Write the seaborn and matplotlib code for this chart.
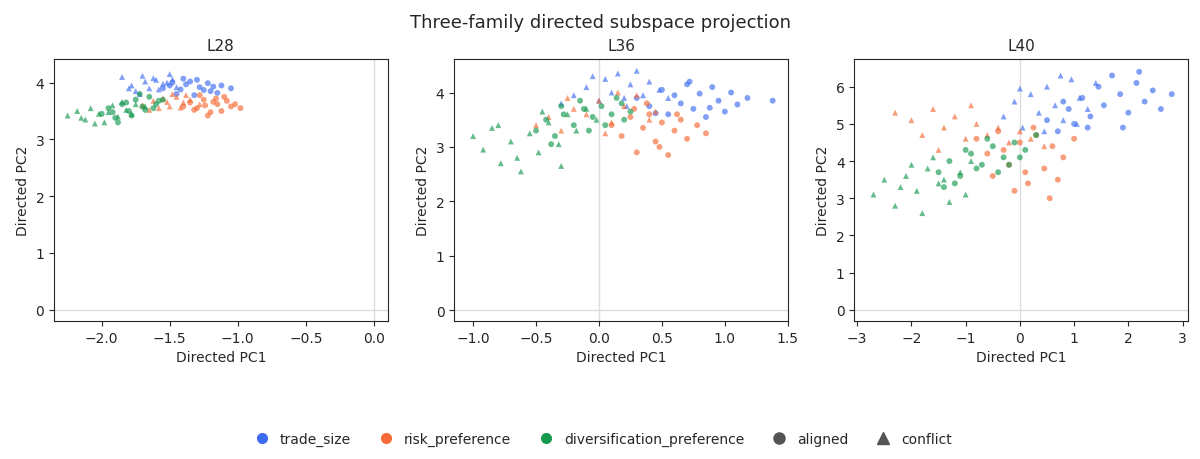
import matplotlib
matplotlib.use("Agg")
import matplotlib.pyplot as plt
import seaborn as sns
import pandas as pd
from matplotlib.lines import Line2D

families = ["trade_size", "risk_preference", "diversification_preference"]
palette = {"trade_size": "#3d6cf0", "risk_preference": "#f56a35", "diversification_preference": "#14994f"}
layers = ["L28", "L36", "L40"]

# ---- L28 ----
L28_trade_al_x = [-1.50, -1.42, -1.35, -1.28, -1.20, -1.12, -1.05, -1.45, -1.38, -1.30, -1.22, -1.15, -1.55, -1.25, -1.32, -1.40, -1.18, -1.48]
L28_trade_al_y = [3.95, 3.88, 4.02, 3.92, 3.85, 3.95, 3.90, 3.80, 3.97, 4.05, 3.99, 3.82, 3.90, 3.87, 3.78, 4.07, 3.93, 4.00]
L28_trade_co_x = [-1.85, -1.78, -1.70, -1.65, -1.60, -1.55, -1.50, -1.45, -1.75, -1.68, -1.58, -1.62, -1.52, -1.72, -1.48, -1.80]
L28_trade_co_y = [4.10, 3.95, 4.12, 3.90, 4.05, 3.98, 4.15, 3.92, 3.85, 4.02, 3.88, 4.08, 4.00, 3.80, 4.06, 3.90]
L28_risk_al_x = [-1.35, -1.30, -1.25, -1.20, -1.15, -1.10, -1.05, -0.98, -1.28, -1.22, -1.18, -1.12, -1.32, -1.08, -1.24, -1.16, -1.02, -1.40]
L28_risk_al_y = [3.65, 3.55, 3.70, 3.48, 3.62, 3.75, 3.58, 3.55, 3.78, 3.42, 3.66, 3.50, 3.52, 3.68, 3.60, 3.72, 3.62, 3.58]
L28_risk_co_x = [-1.70, -1.62, -1.55, -1.50, -1.45, -1.40, -1.35, -1.28, -1.58, -1.48, -1.65, -1.38, -1.52, -1.42]
L28_risk_co_y = [3.60, 3.68, 3.72, 3.58, 3.75, 3.65, 3.70, 3.62, 3.55, 3.80, 3.52, 3.78, 3.66, 3.56]
L28_div_al_x = [-2.00, -1.95, -1.90, -1.85, -1.80, -1.75, -1.70, -1.65, -1.60, -1.55, -1.88, -1.78, -1.68, -1.82, -1.72, -1.92, -1.62, -1.58]
L28_div_al_y = [3.45, 3.55, 3.38, 3.62, 3.50, 3.70, 3.58, 3.75, 3.62, 3.70, 3.30, 3.42, 3.52, 3.65, 3.80, 3.48, 3.55, 3.68]
L28_div_co_x = [-2.25, -2.18, -2.12, -2.08, -2.02, -1.98, -1.92, -1.88, -1.82, -1.75, -1.68, -2.15, -2.05, -1.95, -1.85, -1.78]
L28_div_co_y = [3.42, 3.50, 3.35, 3.55, 3.45, 3.30, 3.60, 3.40, 3.52, 3.62, 3.58, 3.38, 3.28, 3.48, 3.66, 3.45]

# ---- L36 ----
L36_trade_al_x = [0.30, 0.40, 0.50, 0.55, 0.60, 0.65, 0.70, 0.75, 0.80, 0.85, 0.90, 0.95, 1.00, 1.05, 1.10, 1.18, 0.45, 0.72, 0.88, 1.38]
L36_trade_al_y = [3.90, 3.75, 4.05, 3.60, 3.95, 3.80, 4.15, 3.70, 3.98, 3.55, 4.10, 3.85, 3.65, 4.00, 3.78, 3.90, 3.62, 4.20, 3.72, 3.85]
L36_trade_co_x = [-0.30, -0.20, -0.10, 0.00, 0.05, 0.10, 0.15, 0.20, 0.25, 0.30, 0.35, 0.40, 0.48, 0.55, -0.05, 0.22]
L36_trade_co_y = [3.80, 3.95, 4.10, 3.85, 4.25, 4.00, 4.35, 3.90, 4.15, 4.40, 3.95, 4.20, 4.05, 3.90, 4.30, 3.75]
L36_risk_al_x = [0.10, 0.18, 0.25, 0.30, 0.35, 0.40, 0.45, 0.50, 0.55, 0.60, 0.65, 0.70, 0.78, 0.85, 0.28, 0.48, 0.62, 0.38]
L36_risk_al_y = [3.40, 3.20, 3.55, 2.90, 3.35, 3.60, 3.10, 3.45, 2.85, 3.30, 3.50, 3.15, 3.40, 3.25, 3.70, 3.00, 3.60, 3.80]
L36_risk_co_x = [-0.50, -0.40, -0.30, -0.20, -0.10, 0.00, 0.10, 0.20, 0.30, 0.40, -0.25, 0.05, 0.15, 0.45]
L36_risk_co_y = [3.40, 3.55, 3.30, 3.70, 3.60, 3.85, 3.45, 3.75, 3.95, 3.50, 3.90, 3.25, 4.00, 3.65]
L36_div_al_x = [-0.50, -0.42, -0.35, -0.28, -0.20, -0.12, -0.05, 0.02, 0.10, 0.18, 0.25, -0.38, -0.15, 0.05, 0.20, -0.30, -0.08, 0.14]
L36_div_al_y = [3.30, 3.50, 3.20, 3.60, 3.40, 3.70, 3.55, 3.75, 3.60, 3.80, 3.65, 3.05, 3.85, 3.40, 3.50, 3.75, 3.30, 3.90]
L36_div_co_x = [-1.00, -0.92, -0.85, -0.78, -0.70, -0.62, -0.55, -0.48, -0.40, -0.32, -0.25, -0.18, -0.10, -0.02, -0.65, -0.45, -0.80, -0.30]
L36_div_co_y = [3.20, 2.95, 3.35, 2.70, 3.10, 2.55, 3.25, 2.90, 3.45, 3.05, 3.60, 3.30, 3.70, 3.50, 2.80, 3.65, 3.40, 2.65]

# ---- L40 ----
L40_trade_al_x = [0.50, 0.70, 0.90, 1.00, 1.15, 1.30, 1.45, 1.55, 1.70, 1.85, 2.00, 2.15, 2.30, 2.45, 2.60, 2.80, 1.25, 1.90, 2.20, 0.80]
L40_trade_al_y = [5.10, 4.80, 5.40, 5.00, 5.70, 5.20, 6.00, 5.50, 6.30, 5.80, 5.30, 6.10, 5.60, 5.90, 5.40, 5.80, 4.90, 4.90, 6.40, 5.60]
L40_trade_co_x = [-0.30, -0.10, 0.05, 0.20, 0.35, 0.50, 0.65, 0.80, 0.95, 1.10, 1.25, 1.40, 0.00, 0.45, 0.75, 1.05]
L40_trade_co_y = [5.20, 5.60, 4.90, 5.80, 5.30, 6.00, 5.50, 5.10, 6.20, 5.70, 5.40, 6.10, 5.95, 4.80, 6.30, 5.00]
L40_risk_al_x = [-0.80, -0.60, -0.40, -0.20, 0.00, 0.15, 0.30, 0.45, 0.60, 0.80, 1.00, -0.50, -0.10, 0.25, 0.55, -0.30, 0.10, 0.70]
L40_risk_al_y = [4.60, 4.20, 4.80, 3.90, 4.50, 3.40, 4.70, 3.80, 4.40, 4.10, 4.60, 3.60, 3.20, 4.90, 3.00, 4.30, 3.70, 3.50]
L40_risk_co_x = [-2.30, -2.00, -1.80, -1.60, -1.40, -1.20, -1.00, -0.80, -0.60, -0.40, -0.20, 0.00, 0.20, 0.45, -1.50, -0.90]
L40_risk_co_y = [5.30, 5.10, 4.70, 5.40, 4.90, 5.20, 4.60, 5.00, 4.70, 4.90, 4.50, 4.80, 4.60, 4.40, 4.30, 5.50]
L40_div_al_x = [-1.50, -1.30, -1.10, -0.90, -0.70, -0.50, -0.30, -0.10, 0.10, 0.30, -1.20, -0.80, -0.40, 0.00, -0.60, -1.00, -0.20, -1.40]
L40_div_al_y = [3.70, 4.00, 3.60, 4.20, 3.90, 4.40, 4.10, 4.50, 4.30, 4.70, 3.40, 3.80, 3.70, 4.10, 4.60, 4.30, 3.90, 3.30]
L40_div_co_x = [-2.70, -2.50, -2.30, -2.10, -1.90, -1.70, -1.50, -1.30, -1.10, -0.90, -2.20, -1.80, -1.40, -1.00, -1.60, -2.00]
L40_div_co_y = [3.10, 3.50, 2.80, 3.60, 3.20, 3.80, 3.40, 2.90, 3.70, 4.00, 3.30, 2.60, 3.50, 3.10, 4.10, 3.90]

ns = globals()
short = {"trade_size": "trade", "risk_preference": "risk", "diversification_preference": "div"}
rows = []
for L in layers:
    for f in families:
        for cond, key in [("aligned", "al"), ("conflict", "co")]:
            xs = ns[f"{L}_{short[f]}_{key}_x"]
            ys = ns[f"{L}_{short[f]}_{key}_y"]
            for x, y in zip(xs, ys):
                rows.append(dict(layer=L, family=f, cond=cond, x=x, y=y))
df = pd.DataFrame(rows)

sns.set_style("ticks")
plt.rcParams["font.family"] = ["DejaVu Sans"]
fig, axes = plt.subplots(1, 3, figsize=(12, 4.6), dpi=100)
xlims = [(-2.35, 0.1), (-1.15, 1.5), (-3.05, 3.1)]
ylims = [(-0.2, 4.42), (-0.2, 4.62), (-0.3, 6.75)]
for ax, L, xl, yl in zip(axes, layers, xlims, ylims):
    ax.axhline(0, color="#dddddd", lw=1, zorder=0)
    ax.axvline(0, color="#dddddd", lw=1, zorder=0)
    sns.scatterplot(data=df[df.layer == L], x="x", y="y", hue="family", style="cond",
                    hue_order=families, style_order=["aligned", "conflict"],
                    markers={"aligned": "o", "conflict": "^"}, palette=palette,
                    s=18, alpha=0.65, linewidth=0, ax=ax, legend=False)
    ax.set_xlim(xl); ax.set_ylim(yl)
    ax.set_title(L, fontsize=11)
    ax.set_xlabel("Directed PC1"); ax.set_ylabel("Directed PC2")
axes[0].set_xticks([-2.0, -1.5, -1.0, -0.5, 0.0])
axes[1].set_xticks([-1.0, -0.5, 0.0, 0.5, 1.0, 1.5])
axes[2].set_xticks([-3, -2, -1, 0, 1, 2, 3])

handles = [Line2D([], [], marker="o", ls="", color=palette[f], markersize=7, label=f) for f in families]
handles += [Line2D([], [], marker="o", ls="", color="#555555", markersize=8, label="aligned"),
            Line2D([], [], marker="^", ls="", color="#555555", markersize=8, label="conflict")]
fig.legend(handles=handles, loc="lower center", ncol=5, frameon=False, bbox_to_anchor=(0.5, 0.0),
           handletextpad=0.3, columnspacing=1.5)
fig.suptitle("Three-family directed subspace projection", fontsize=13, y=0.97)
fig.subplots_adjust(left=0.045, right=0.99, top=0.87, bottom=0.3, wspace=0.2)
fig.savefig("out.png")
